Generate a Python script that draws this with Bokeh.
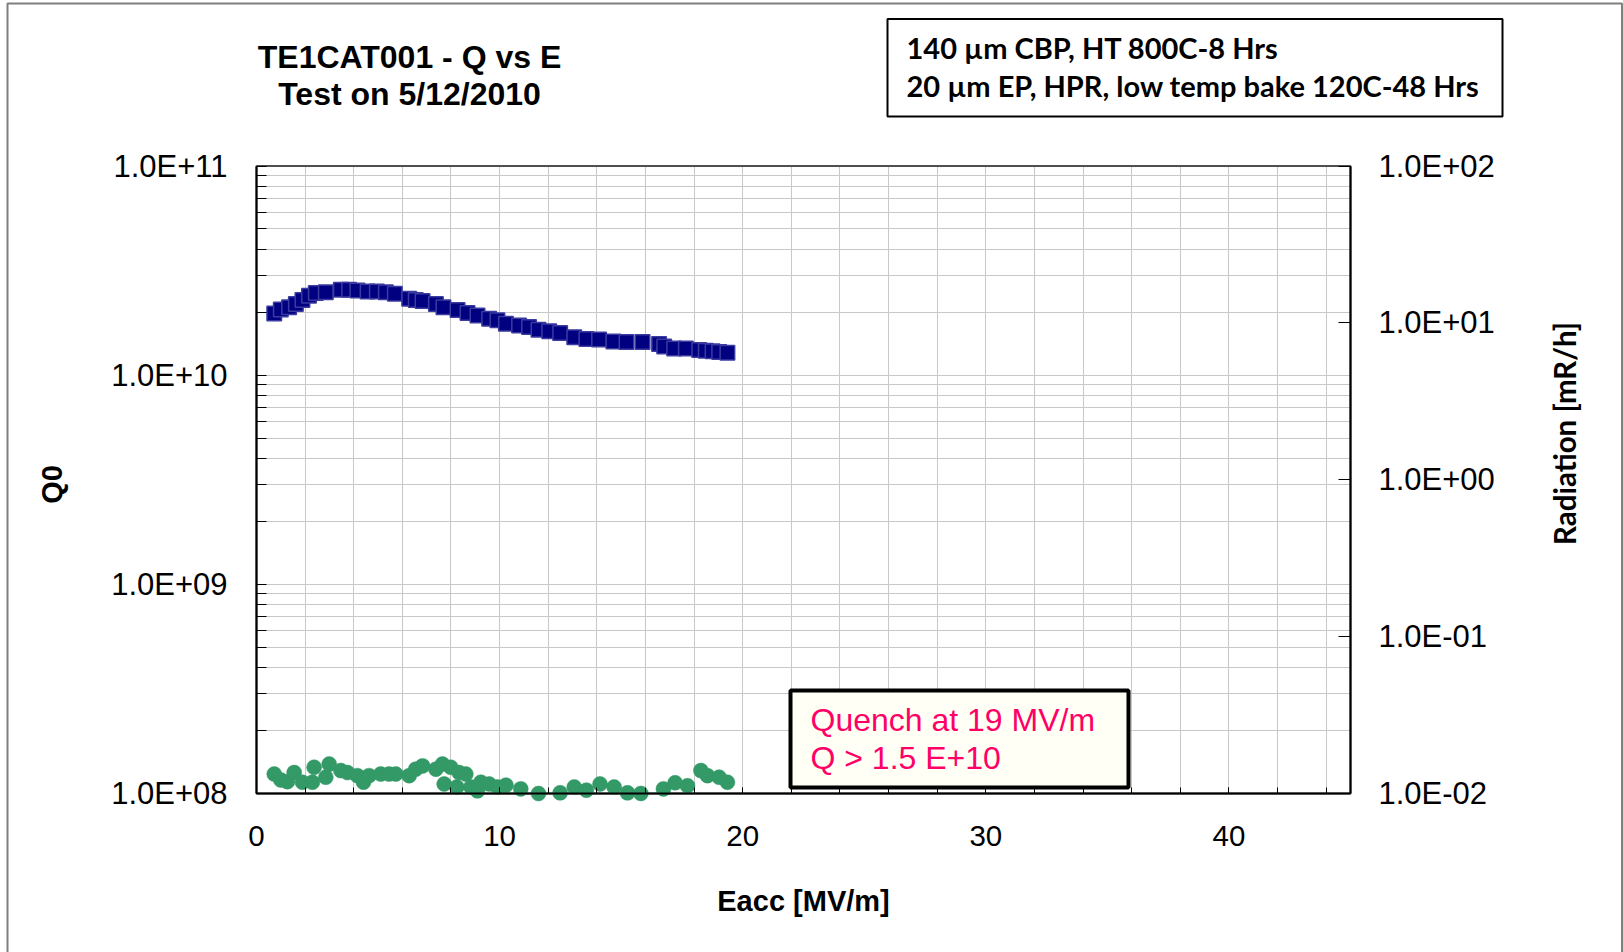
import math
from bokeh.plotting import figure
from bokeh.models import (Range1d, LogAxis, LogScale, FixedTicker, CustomJSTickFormatter,
                          Label, BoxAnnotation, ColumnDataSource, Grid)
from bokeh.embed import file_html
from bokeh.resources import INLINE

# ---------------- data ----------------
eacc_q = [0.73, 1.00, 1.34, 1.62, 1.89, 2.16, 2.44, 2.85, 3.47, 3.81, 4.15, 4.57, 4.95, 5.32,
          5.69, 6.28, 6.55, 6.83, 7.38, 7.69, 8.27, 8.68, 9.09, 9.57, 9.91, 10.26, 10.80, 11.21,
          11.60, 12.04, 12.49, 13.07, 13.57, 14.09, 14.68, 15.22, 15.88, 16.56, 16.77, 17.18,
          17.66, 18.21, 18.48, 18.76, 19.03, 19.37]
q0 = [1.97e10, 2.06e10, 2.11e10, 2.19e10, 2.29e10, 2.40e10, 2.47e10, 2.49e10, 2.56e10, 2.56e10,
      2.54e10, 2.51e10, 2.51e10, 2.49e10, 2.45e10, 2.32e10, 2.29e10, 2.26e10, 2.19e10, 2.11e10,
      2.05e10, 1.98e10, 1.93e10, 1.86e10, 1.83e10, 1.76e10, 1.73e10, 1.70e10, 1.65e10, 1.62e10,
      1.59e10, 1.52e10, 1.49e10, 1.48e10, 1.45e10, 1.44e10, 1.44e10, 1.41e10, 1.37e10, 1.34e10,
      1.34e10, 1.32e10, 1.31e10, 1.30e10, 1.29e10, 1.28e10]

eacc_r = [0.73, 1.00, 1.27, 1.55, 1.89, 2.30, 2.37, 2.85, 2.99, 3.47, 3.74, 4.15, 4.40, 4.63,
          5.11, 5.45, 5.73, 6.28, 6.55, 6.83, 7.38, 7.65, 7.72, 7.99, 8.24, 8.33, 8.61, 8.82,
          9.09, 9.23, 9.57, 9.91, 10.26, 10.87, 11.60, 12.49, 13.07, 13.57, 14.13, 14.71, 15.26,
          15.81, 16.74, 17.22, 17.73, 18.28, 18.55, 19.03, 19.37]
radiation = [0.0133, 0.0122, 0.0119, 0.0136, 0.0118, 0.0118, 0.0147, 0.0127, 0.0154, 0.0140,
             0.0136, 0.0130, 0.0118, 0.0130, 0.0133, 0.0133, 0.0133, 0.0130, 0.0143, 0.0150,
             0.0143, 0.0154, 0.0115, 0.0147, 0.0110, 0.0136, 0.0133, 0.0110, 0.0104, 0.0118,
             0.0115, 0.0110, 0.0113, 0.0107, 0.0100, 0.0101, 0.0110, 0.0105, 0.0115, 0.0110,
             0.0101, 0.0100, 0.0107, 0.0117, 0.0112, 0.0140, 0.0130, 0.0127, 0.0118]

x_lim = (0, 45)
x_ticks = [0, 10, 20, 30, 40]
q_decades = [1e8, 1e9, 1e10, 1e11]
r_decades = [1e-2, 1e-1, 1e0, 1e1, 1e2]

title_lines = ["TE1CAT001 - Q vs E", "Test on 5/12/2010"]
note_lines = ["140 \u00b5m CBP, HT 800C-8 Hrs", "20 \u00b5m EP, HPR, low temp bake 120C-48 Hrs"]
quench_lines = ["Quench at 19 MV/m", "Q > 1.5 E+10"]

# ---------------- layout (page == canvas) ----------------
W, H = 1623, 952
PL, PR, PT, PB = 256.0, 1350.0, 165.5, 793.0     # plot area in page pixels

kx = (PR - PL) / (x_lim[1] - x_lim[0])
x_start = x_lim[0] - PL / kx
x_end = x_lim[1] + (W - PR) / kx

def log_range(lo, hi):
    dec = (PB - PT) / (math.log10(hi) - math.log10(lo))
    return 10 ** (math.log10(lo) - (H - PB) / dec), 10 ** (math.log10(hi) + PT / dec)

qy0, qy1 = log_range(q_decades[0], q_decades[-1])
ry0, ry1 = log_range(r_decades[0], r_decades[-1])

def sx(px):
    return px

def sy(py):
    return H - py

ARIAL = "Liberation Sans"
CALIBRI = "Lato"
GRID = "#c8c8c8"

p = figure(width=W, height=H, min_border=0,
           x_range=Range1d(x_start, x_end), y_range=Range1d(qy0, qy1), y_axis_type="log",
           output_backend="svg", toolbar_location=None,
           background_fill_color="white", border_fill_color="white")
p.outline_line_color = None

fmt = CustomJSTickFormatter(code="""
const e = Math.round(Math.log10(tick));
const a = Math.abs(e);
return '1.0E' + (e < 0 ? '-' : '+') + (a < 10 ? '0' + a : '' + a);
""")

# left axis
q_minor = [k * d for d in q_decades[:-1] for k in range(2, 10)]
yt = FixedTicker(ticks=q_decades, minor_ticks=q_minor)
ya = p.yaxis[0]
ya.ticker = yt
ya.formatter = fmt
ya.fixed_location = x_lim[0]
ya.bounds = (q_decades[0], q_decades[-1])

# bottom axis
x_minor = list(range(0, 46, 2))
xt = FixedTicker(ticks=x_ticks, minor_ticks=x_minor)
xa = p.xaxis[0]
xa.ticker = xt
xa.fixed_location = q_decades[0]
xa.bounds = x_lim

# grids
has_cross = "cross_bounds" in Grid.properties()
p.ygrid.ticker = yt
p.xgrid.ticker = xt
for g in (p.xgrid, p.ygrid):
    g.grid_line_color = GRID
    g.minor_grid_line_color = GRID
p.xgrid.bounds = x_lim
p.ygrid.bounds = (q_decades[0], q_decades[-1])
if has_cross:
    p.xgrid.cross_bounds = (q_decades[0], q_decades[-1])
    p.ygrid.cross_bounds = x_lim

# right axis
p.extra_y_ranges = {"rad": Range1d(ry0, ry1)}
p.extra_y_scales = {"rad": LogScale()}
ra = LogAxis(y_range_name="rad", ticker=FixedTicker(ticks=r_decades, minor_ticks=[]),
             formatter=fmt, fixed_location=x_lim[1], bounds=(r_decades[0], r_decades[-1]))
p.add_layout(ra, "right")

for ax in (xa, ya, ra):
    ax.axis_line_color = "black"
    ax.axis_line_width = 2
    ax.major_tick_line_color = "black"
    ax.minor_tick_line_color = "black"
    ax.major_tick_out = 0
    ax.minor_tick_out = 0
    ax.major_label_text_font = ARIAL
    ax.major_label_text_font_size = "31px"
    ax.major_label_text_color = "black"
ya.major_tick_in = 10
ya.minor_tick_in = 10
ya.major_label_standoff = 29
ra.major_tick_in = 12
ra.minor_tick_line_color = None
ra.major_label_standoff = 28
xa.major_tick_in = 6
xa.minor_tick_in = 6
xa.major_label_standoff = 32
xa.major_label_text_font_size = "29.5px"

# plot-area outline (top edge)
p.add_layout(BoxAnnotation(left=x_lim[0], right=x_lim[1], bottom=q_decades[0], top=q_decades[-1],
                           fill_alpha=0, line_color="#505050", line_alpha=1, line_width=2,
                           level="underlay"))

# data
src_q = ColumnDataSource(dict(x=eacc_q, y=q0))
src_r = ColumnDataSource(dict(x=eacc_r, y=radiation))
p.scatter("x", "y", source=src_r, y_range_name="rad", marker="circle", size=15,
          fill_color="#339966", line_color="#339966", line_width=0.5)
p.scatter("x", "y", source=src_q, marker="square", size=14.5,
          fill_color="#000080", line_color="#3a3aa0", line_width=1.5)

def box(l, r, t, b, **kw):
    return BoxAnnotation(left=sx(l), right=sx(r), top=sy(t), bottom=sy(b),
                         left_units="screen", right_units="screen",
                         top_units="screen", bottom_units="screen", line_alpha=1, **kw)

# outer border
p.add_layout(box(7, 1621.5, 3, 970, fill_alpha=0, line_color="#7f7f7f", line_width=2))

# title
for i, t in enumerate(title_lines):
    p.add_layout(Label(x=sx(409), y=sy(56 + 37 * i), x_units="screen", y_units="screen",
                       text=t, text_font=ARIAL, text_font_style="bold", text_font_size="32px",
                       text_align="center", text_baseline="middle", text_color="black"))

# note box
p.add_layout(box(887, 1502, 18.6, 116, fill_color="white", fill_alpha=1,
                 line_color="black", line_width=2))
for i, t in enumerate(note_lines):
    p.add_layout(Label(x=sx(906), y=sy(47 + 37.5 * i), x_units="screen", y_units="screen",
                       text=t, text_font=CALIBRI, text_font_style="bold", text_font_size="29px",
                       text_align="left", text_baseline="middle", text_color="black"))

# quench box
p.add_layout(box(790, 1128, 690, 787, fill_color="#fffff5", fill_alpha=1,
                 line_color="black", line_width=4))
for i, t in enumerate(quench_lines):
    p.add_layout(Label(x=sx(810), y=sy(719.5 + 38 * i), x_units="screen", y_units="screen",
                       text=t, text_font=ARIAL, text_font_size="32px",
                       text_align="left", text_baseline="middle", text_color="#ff0066"))

# axis titles
p.add_layout(Label(x=sx(51), y=sy(484), x_units="screen", y_units="screen", text="Q0",
                   angle=math.pi / 2, text_font=ARIAL, text_font_style="bold", text_font_size="29px",
                   text_align="center", text_baseline="middle", text_color="black"))
p.add_layout(Label(x=sx(803), y=sy(900), x_units="screen", y_units="screen", text="Eacc [MV/m]",
                   text_font=ARIAL, text_font_style="bold", text_font_size="29px",
                   text_align="center", text_baseline="middle", text_color="black"))
p.add_layout(Label(x=sx(1564), y=sy(433), x_units="screen", y_units="screen", text="Radiation [mR/h]",
                   angle=math.pi / 2, text_font=CALIBRI, text_font_style="bold", text_font_size="29.5px",
                   text_align="center", text_baseline="middle", text_color="black"))

open("out.html", "w").write(file_html(p, INLINE))
